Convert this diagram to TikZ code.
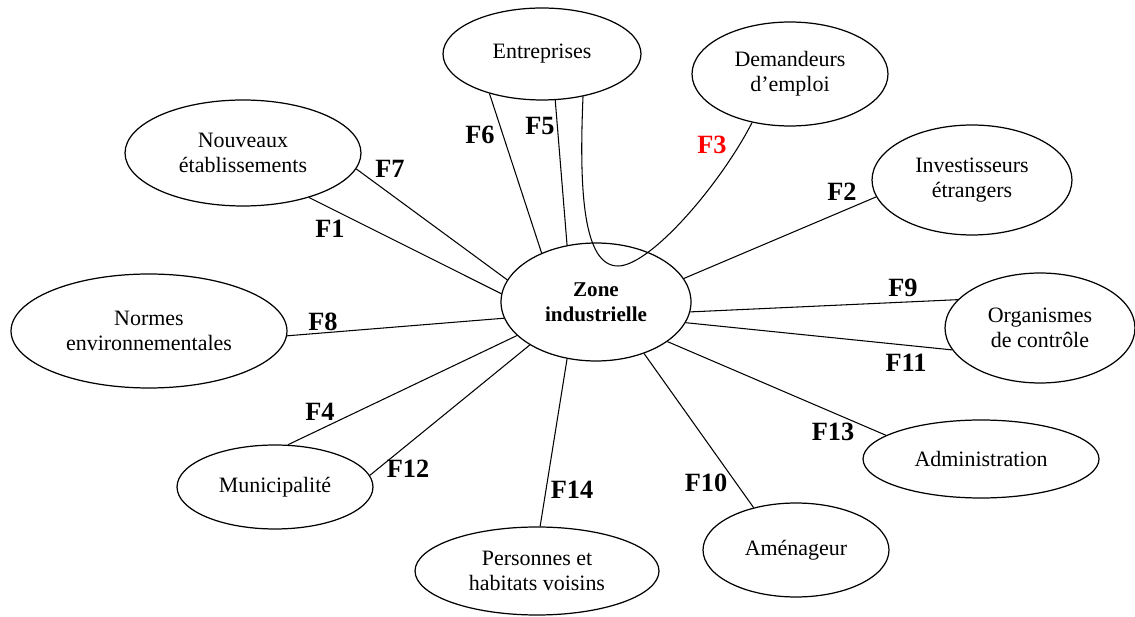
\documentclass[tikz,border=0pt]{standalone}
\usepackage{fontspec}
\setmainfont{Liberation Serif}
\usetikzlibrary{shapes.geometric}
\tikzset{
  acteur/.style 2 args={draw, ellipse, line width=0.7pt, minimum width=#1*0.4mm,
    minimum height=#2*0.4mm, inner sep=1pt, align=center, font=\fontsize{12.5}{14}\selectfont},
  lien/.style={line width=0.6pt},
  flux/.style={font=\fontsize{15}{18}\selectfont\bfseries, inner sep=0pt},
}

\begin{document}
\begin{tikzpicture}[x=0.02cm, y=-0.02cm]
    \useasboundingbox (0,0) rectangle (1135,617);
    \node[acteur={95}{59}, font=\fontsize{12}{14}\selectfont\bfseries] (zone) at (596,302) {Zone\\industrielle};
    \node[acteur={99}{46}] (entr) at (542,54) {Entreprises};
    \node[acteur={98}{52}] (dem) at (790,74) {Demandeurs\\d’emploi};
    \node[acteur={118}{53}] (nouv) at (243,153) {Nouveaux\\établissements};
    \node[acteur={100}{55}] (inv) at (972,180) {Investisseurs\\étrangers};
    \node[acteur={138}{57}] (normes) at (149,331) {Normes\\environnementales};
    \node[acteur={95}{55}] (org) at (1040,328) {Organismes\\de contrôle};
    \node[acteur={118}{39}] (admin) at (981,459) {Administration};
    \node[acteur={98}{42}] (muni) at (275,487) {Municipalité};
    \node[acteur={122}{44}] (pers) at (537,571) {Personnes et\\habitats voisins};
    \node[acteur={93}{47}] (amen) at (796,550) {Aménageur};
    \coordinate (f3bas) at (618,266);
    \draw[lien] (nouv.-34) -- (zone.175);
    \draw[lien] (nouv.-8) -- (zone.166);
    \draw[lien] (entr.-143) -- (zone.138);
    \draw[lien] (entr.-74) -- (zone.117);
    \draw[lien] (entr.-46) .. controls (579,190) and (583,266) .. (f3bas)
      .. controls (650,266) and (720,185) .. (dem.-128);
    \draw[lien] (inv.-170) -- (zone.15);
    \draw[lien] (org.161) -- (zone.-6);
    \draw[lien] (org.-166) -- (zone.-13);
    \draw[lien] (admin.166) -- (zone.-29);
    \draw[lien] (amen.135) -- (zone.-47);
    \draw[lien] (pers.86) -- (zone.-117);
    \draw[lien] (muni.7) -- (zone.-147);
    \draw[lien] (muni.73) -- (zone.-157);
    \draw[lien] (normes.-2.5) -- (zone.-170);
    \node[flux] (lf1) at (330,229) {F1};
    \node[flux] (lf7) at (390,169) {F7};
    \node[flux] (lf6) at (480,135) {F6};
    \node[flux] (lf5) at (540,126) {F5};
    \node[flux, red] (lf3) at (712,145) {F3};
    \node[flux] (lf2) at (842,192) {F2};
    \node[flux] (lf9) at (903,288) {F9};
    \node[flux] (lf11) at (906,363) {F11};
    \node[flux] (lf13) at (833,432) {F13};
    \node[flux] (lf10) at (706,483) {F10};
    \node[flux] (lf14) at (572,490) {F14};
    \node[flux] (lf12) at (408,469) {F12};
    \node[flux] (lf4) at (320,412) {F4};
    \node[flux] (lf8) at (323,322) {F8};
  \end{tikzpicture}
\end{document}
